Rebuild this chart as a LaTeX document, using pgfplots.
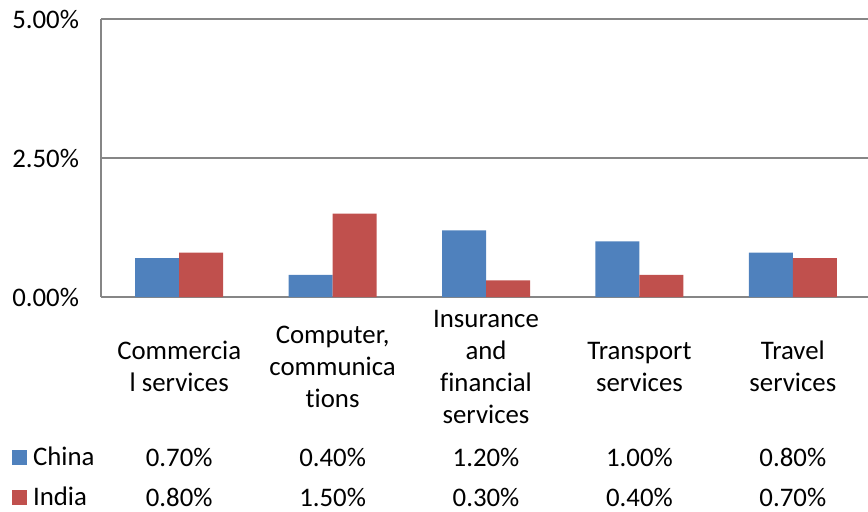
\documentclass[border=0pt]{standalone}
\usepackage{fontspec}
\setmainfont{Carlito}[Ligatures={NoCommon}]
\usepackage{pgfplots}
\pgfplotsset{compat=1.18}
\definecolor{cblue}{HTML}{4F81BD}
\definecolor{cred}{HTML}{C0504D}
\definecolor{gridc}{HTML}{868686}
\begin{document}
\begin{tikzpicture}[font=\fontsize{13.4pt}{16pt}\selectfont]
\path[use as bounding box] (-50.5pt,-107pt) rectangle (383.5pt,148.5pt);
\begin{axis}[at={(0,0)}, anchor=south west, scale only axis,
  width=383.5pt, height=139pt,
  xmin=-0.51, xmax=4.49, ymin=0, ymax=5,
  ybar=0pt, bar width=22pt, clip=false,
  axis lines*=left, axis line style={gridc, line width=1pt, -},
  ymajorgrids, grid style={gridc, line width=1pt},
  ytick={0,2.5,5}, yticklabels={0.00\%,2.50\%,5.00\%},
  yticklabel style={xshift=-7.5pt},
  xtick={0,1,2,3,4},
  xticklabels={{Commercia\\l services},{Computer,\\communica\\tions},{Insurance\\and\\financial\\services},{Transport\\services},{Travel\\services}},
  xticklabel style={align=center, anchor=center, yshift=-30.5pt},
  tick style={draw=none},
  legend image code/.code={\fill[#1] (0pt,-3.75pt) rectangle (7.5pt,3.75pt);},
  legend style={at={(-0.1160,-0.5468)}, anchor=north west, draw=none, fill=none,
    inner sep=0pt, outer sep=0pt, row sep=12pt, column sep=3pt,
    nodes={inner sep=0pt, text height=8pt, text depth=0pt}, cells={anchor=west}},
]
\addplot[fill=cblue, draw=none] coordinates {(0,0.7) (1,0.4) (2,1.2) (3,1.0) (4,0.8)};
\addlegendentry{China}
\addplot[fill=cred, draw=none] coordinates {(0,0.8) (1,1.5) (2,0.3) (3,0.4) (4,0.7)};
\addlegendentry{India}
\node[yshift=-80pt] at (axis cs:0,0) {0.70\%};
\node[yshift=-80pt] at (axis cs:1,0) {0.40\%};
\node[yshift=-80pt] at (axis cs:2,0) {1.20\%};
\node[yshift=-80pt] at (axis cs:3,0) {1.00\%};
\node[yshift=-80pt] at (axis cs:4,0) {0.80\%};
\node[yshift=-100pt] at (axis cs:0,0) {0.80\%};
\node[yshift=-100pt] at (axis cs:1,0) {1.50\%};
\node[yshift=-100pt] at (axis cs:2,0) {0.30\%};
\node[yshift=-100pt] at (axis cs:3,0) {0.40\%};
\node[yshift=-100pt] at (axis cs:4,0) {0.70\%};
\end{axis}
\end{tikzpicture}
\end{document}
